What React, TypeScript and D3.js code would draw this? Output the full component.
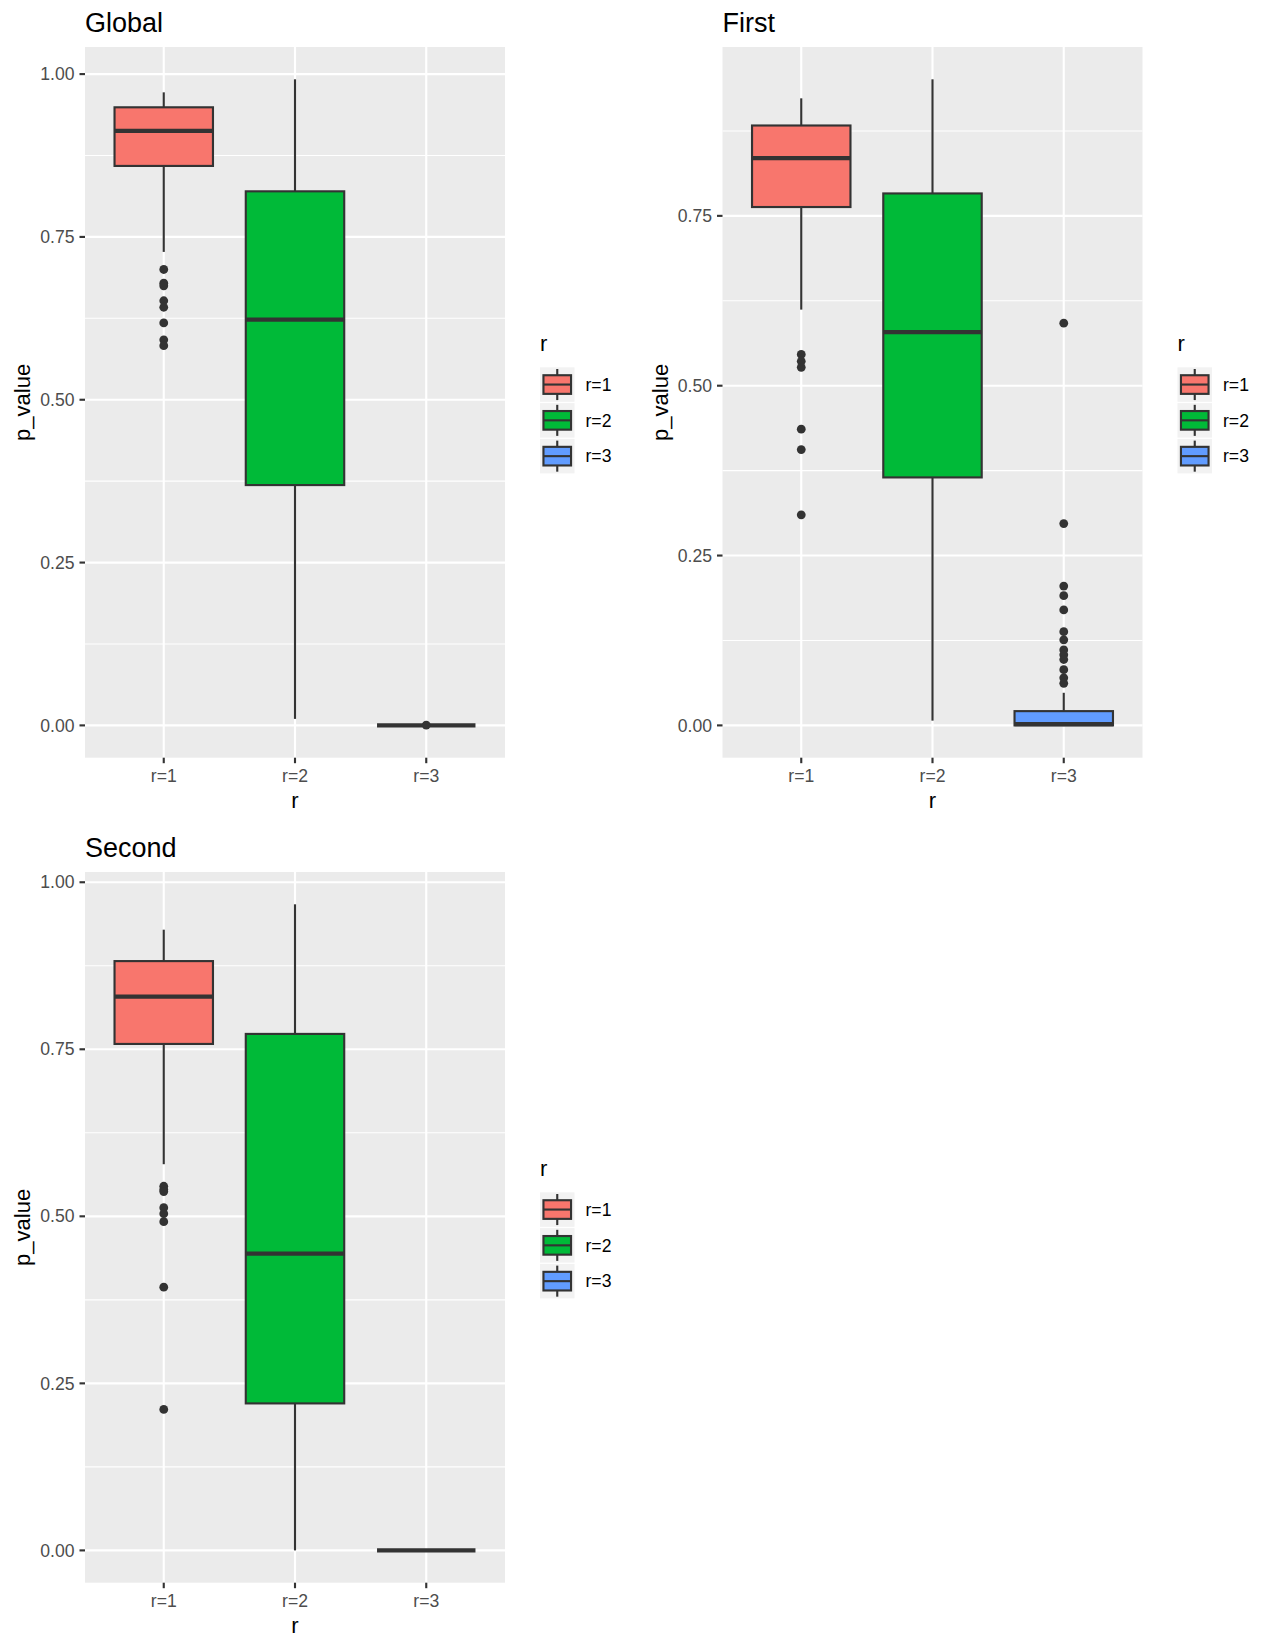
import React from 'react';
import * as d3 from 'd3';

const categories = ['r=1', 'r=2', 'r=3'];
const fills = ['#F8766D', '#00BA38', '#619CFF'];

// box stats per category: [lower whisker, q1, median, q3, upper whisker]
const globalBoxes = [
  [0.727, 0.859, 0.913, 0.949, 0.972],
  [0.010, 0.369, 0.623, 0.820, 0.992],
  [0, 0, 0, 0, 0],
];
const globalOutliers = [
  [0.700, 0.679, 0.675, 0.652, 0.642, 0.618, 0.592, 0.583],
  [],
  [0.0005],
];

const firstBoxes = [
  [0.612, 0.763, 0.835, 0.883, 0.923],
  [0.007, 0.365, 0.579, 0.783, 0.951],
  [0, 0, 0.002, 0.021, 0.048],
];
const firstOutliers = [
  [0.546, 0.536, 0.527, 0.436, 0.406, 0.310],
  [],
  [0.592, 0.297, 0.205, 0.191, 0.170, 0.138, 0.126, 0.111, 0.104, 0.097, 0.082, 0.070, 0.062],
];

const secondBoxes = [
  [0.578, 0.758, 0.829, 0.882, 0.929],
  [0.0, 0.220, 0.444, 0.773, 0.967],
  [0, 0, 0, 0, 0],
];
const secondOutliers = [
  [0.545, 0.540, 0.537, 0.513, 0.504, 0.492, 0.394, 0.211],
  [],
  [],
];

const yTicks = [0, 0.25, 0.5, 0.75, 1];
const yMinor = [0.125, 0.375, 0.625, 0.875];

const FONT = '"Liberation Sans", Arial, Helvetica, sans-serif';
const DARK = '#333333';

// panel geometry inside one cell
const PL = 85, PR = 505, PT = 47, PB = 757.7;

function Panel({ title, boxes, outliers, dx, dy }) {
  const all = boxes.flat().concat(outliers.flat());
  const lo = d3.min(all), hi = d3.max(all);
  const pad = (hi - lo) * 0.05;
  const y = d3.scaleLinear().domain([lo - pad, hi + pad]).range([PB, PT]);
  const x = d3.scalePoint().domain(categories).range([PL, PR]).padding(0.6);
  const bw = x.step() * 0.75;
  const [d0, d1] = y.domain();
  const inRange = v => v >= d0 && v <= d1;

  const legendY = 367.3;
  const keyH = 34.5, keyStep = 35.8;

  return (
    <g transform={`translate(${dx},${dy})`}>
      <text x={PL} y={31.7} fontSize={27} fontFamily={FONT} fill="#000">{title}</text>

      <rect x={PL} y={PT} width={PR - PL} height={PB - PT} fill="#EBEBEB" />
      {yMinor.filter(inRange).map(t => (
        <line key={'m' + t} x1={PL} x2={PR} y1={y(t)} y2={y(t)} stroke="#fff" strokeWidth={1.07} />
      ))}
      {yTicks.filter(inRange).map(t => (
        <line key={'g' + t} x1={PL} x2={PR} y1={y(t)} y2={y(t)} stroke="#fff" strokeWidth={2.13} />
      ))}
      {categories.map(c => (
        <line key={'gx' + c} x1={x(c)} x2={x(c)} y1={PT} y2={PB} stroke="#fff" strokeWidth={2.13} />
      ))}

      {boxes.map((b, i) => {
        const cx = x(categories[i]);
        const [lw, q1, med, q3, uw] = b;
        return (
          <g key={'b' + i}>
            <line x1={cx} x2={cx} y1={y(uw)} y2={y(q3)} stroke={DARK} strokeWidth={2.13} />
            <line x1={cx} x2={cx} y1={y(q1)} y2={y(lw)} stroke={DARK} strokeWidth={2.13} />
            <rect x={cx - bw / 2} y={y(q3)} width={bw} height={Math.max(0, y(q1) - y(q3))}
              fill={fills[i]} stroke={DARK} strokeWidth={2.13} />
            <line x1={cx - bw / 2} x2={cx + bw / 2} y1={y(med)} y2={y(med)} stroke={DARK} strokeWidth={4.26} />
            {outliers[i].map((o, j) => (
              <circle key={j} cx={cx} cy={y(o)} r={4.4} fill={DARK} />
            ))}
          </g>
        );
      })}

      {/* y axis */}
      {yTicks.filter(inRange).map(t => (
        <g key={'yt' + t}>
          <line x1={PL - 5.5} x2={PL} y1={y(t)} y2={y(t)} stroke={DARK} strokeWidth={2.13} />
          <text x={PL - 10.5} y={y(t)} dy="0.35em" textAnchor="end" fontSize={17.6}
            fontFamily={FONT} fill="#4D4D4D">{d3.format('.2f')(t)}</text>
        </g>
      ))}
      {/* x axis */}
      {categories.map(c => (
        <g key={'xt' + c}>
          <line x1={x(c)} x2={x(c)} y1={PB} y2={PB + 5.5} stroke={DARK} strokeWidth={2.13} />
          <text x={x(c)} y={781.7} textAnchor="middle" fontSize={17.6} fontFamily={FONT} fill="#4D4D4D">{c}</text>
        </g>
      ))}
      <text x={(PL + PR) / 2} y={808} textAnchor="middle" fontSize={22} fontFamily={FONT} fill="#000">r</text>
      <text transform={`translate(30,${(PT + PB) / 2}) rotate(-90)`} textAnchor="middle" fontSize={22}
        fontFamily={FONT} fill="#000">p_value</text>

      {/* legend */}
      <text x={540} y={350.5} fontSize={22} fontFamily={FONT} fill="#000">r</text>
      {categories.map((c, i) => {
        const ky = legendY + i * keyStep;
        const kx = 540, kw = 34.5;
        return (
          <g key={'lg' + c}>
            <rect x={kx} y={ky} width={kw} height={keyH} fill="#F2F2F2" />
            <line x1={kx + kw / 2} x2={kx + kw / 2} y1={ky + keyH * 0.05} y2={ky + keyH * 0.95} stroke={DARK} strokeWidth={2.13} />
            <rect x={kx + kw * 0.1} y={ky + keyH * 0.23} width={kw * 0.8} height={keyH * 0.54}
              fill={fills[i]} stroke={DARK} strokeWidth={2.13} />
            <line x1={kx + kw * 0.1} x2={kx + kw * 0.9} y1={ky + keyH / 2} y2={ky + keyH / 2} stroke={DARK} strokeWidth={2.13} />
            <text x={585.5} y={ky + keyH / 2} dy="0.35em" fontSize={17.6} fontFamily={FONT} fill="#000">{c}</text>
          </g>
        );
      })}
    </g>
  );
}

export default function App() {
  return (
    <svg width={1275} height={1650} style={{ position: 'absolute', left: 0, top: 0, background: '#fff' }}>
      <rect width={1275} height={1650} fill="#fff" />
      <Panel title="Global" boxes={globalBoxes} outliers={globalOutliers} dx={0} dy={0} />
      <Panel title="First" boxes={firstBoxes} outliers={firstOutliers} dx={637.5} dy={0} />
      <Panel title="Second" boxes={secondBoxes} outliers={secondOutliers} dx={0} dy={825} />
    </svg>
  );
}
